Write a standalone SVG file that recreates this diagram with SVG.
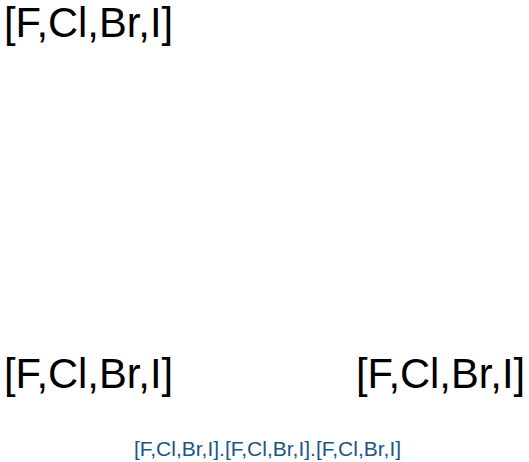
<svg xmlns="http://www.w3.org/2000/svg" width="529" height="462" viewBox="0 0 529 462">
<style>
.atom{font-family:"Liberation Sans",Arial,sans-serif;font-size:41.7px;fill:#000}
.cap{font-family:"Liberation Sans",Arial,sans-serif;font-size:21px;fill:#1a5686}
</style>
<rect width="529" height="462" fill="#fff"/>
<g id="node1"><text class="atom" x="4" y="37">[F,Cl,Br,I]</text></g>
<g id="node2"><text class="atom" x="4" y="388">[F,Cl,Br,I]</text></g>
<g id="node3"><text class="atom" x="356" y="388">[F,Cl,Br,I]</text></g>
<g id="connectors"></g>
<g id="caption"><text class="cap" x="267.5" y="456" text-anchor="middle">[F,Cl,Br,I].[F,Cl,Br,I].[F,Cl,Br,I]</text></g>
</svg>
